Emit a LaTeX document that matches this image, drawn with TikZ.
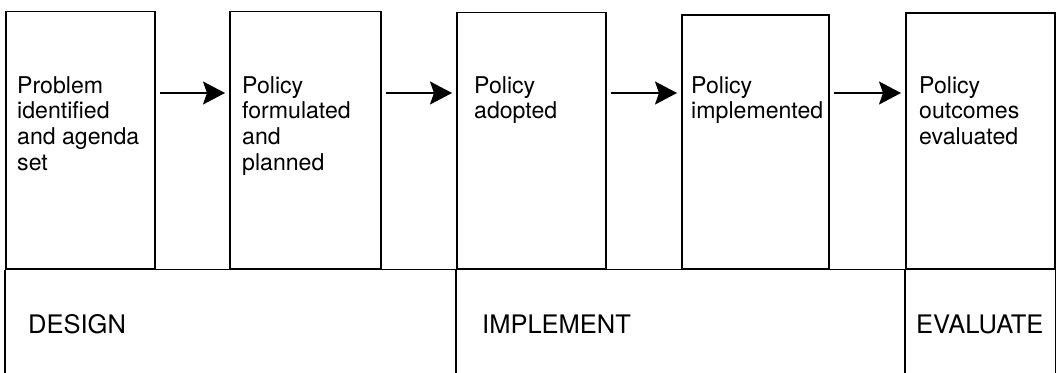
\documentclass[tikz,border=0pt]{standalone}
\usepackage{fontspec}
\setmainfont{TeX Gyre Heros}
\usetikzlibrary{arrows.meta}
\newcommand\stk[1]{\vtop{\baselineskip=25.7pt\lineskiplimit=-20pt\halign{##\hfil\cr#1\crcr}}}
\tikzset{
  box/.style={draw, line width=1.5pt, rectangle, anchor=north west, inner sep=0pt},
  txt/.style={anchor=base west, inner sep=0pt, font=\fontsize{23.1}{25.7}\selectfont},
  band/.style={anchor=base west, inner sep=0pt, font=\fontsize{25.5}{28}\selectfont},
  arr/.style={line width=2pt, -{Stealth[length=22pt, width=23pt, inset=4pt]}, shorten <=4pt, shorten >=4pt},
  rule/.style={line width=1.5pt}
}
\begin{document}
\begin{tikzpicture}[x=1pt, y=-1pt]
\useasboundingbox (0,0) rectangle (1056,372);
% upper boxes
\node[box, minimum width=149pt, minimum height=257.3pt] (b1) at (5,10.7) {};
\node[box, minimum width=151pt, minimum height=257.3pt] (b2) at (229,10.7) {};
\node[box, minimum width=149pt, minimum height=256.3pt] (b3) at (456,11.7) {};
\node[box, minimum width=147pt, minimum height=254pt] (b4) at (681,14) {};
\node[box, minimum width=149pt, minimum height=255.7pt] (b5) at (905,12.3) {};
% texts
\node[txt] (t1) at (17,93) {\stk{Problem\cr identified\cr and agenda\cr set}};
\node[txt] (t2) at (242,93) {\stk{Policy\cr formulated\cr and\cr planned}};
\node[txt] (t3) at (474,93) {\stk{Policy\cr adopted}};
\node[txt] (t4) at (691,93) {\stk{Policy\cr implemented}};
\node[txt] (t5) at (919,93) {\stk{Policy\cr outcomes\cr evaluated}};
% arrows
\draw[arr] (b1.east |- t1.base) -- (b2.west |- t1.base);
\draw[arr] (b2.east |- t1.base) -- (b3.west |- t1.base);
\draw[arr] (b3.east |- t1.base) -- (b4.west |- t1.base);
\draw[arr] (b4.east |- t1.base) -- (b5.west |- t1.base);
% lower band
\coordinate (bot) at (0,374);
\draw[rule] (b1.south west) -- (b5.south east |- b1.south west);
\draw[rule] (b1.south west) -- (b1.south west |- bot);
\draw[rule] (b3.south west) -- (b3.south west |- bot);
\draw[rule] (b5.south west) -- (b5.south west |- bot);
\draw[rule] (b5.south east) -- (b5.south east |- bot);
\node[band] (d) at (28,333) {DESIGN};
\node[band] (i) at (482,333) {IMPLEMENT};
\node[band] (e) at (916,333) {EVALUATE};
\end{tikzpicture}
\end{document}
